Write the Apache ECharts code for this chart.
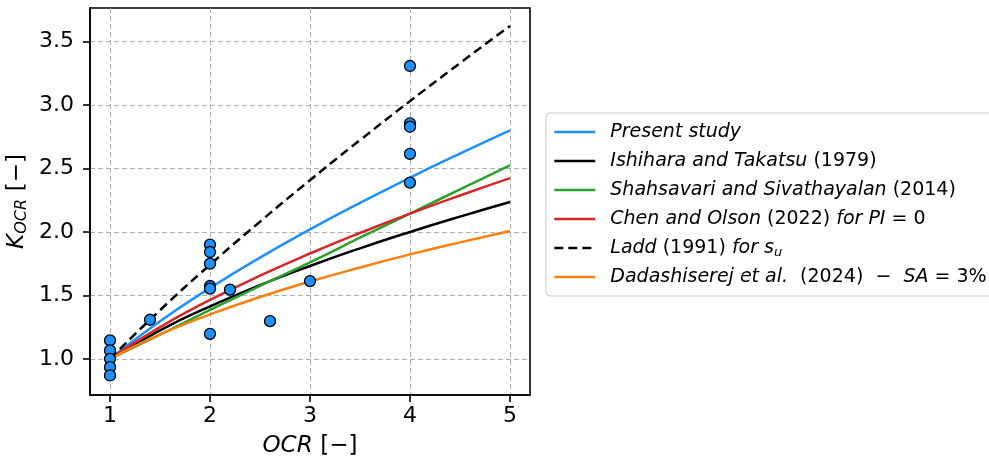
<!DOCTYPE html>
<html>
<head>
<meta charset="utf-8">
<script src="https://cdn.jsdelivr.net/npm/echarts@6/dist/echarts.min.js"></script>
<style>
  html, body { margin: 0; padding: 0; background: #fff; }
  #main { width: 989px; height: 466px; }
</style>
</head>
<body>
<div id="main"></div>
<script>
// curves at these OCR values
const curveOCR = [1, 1.5, 2, 2.5, 3, 3.5, 4, 4.5, 5]
const presentStudy = [1, 1.296, 1.558, 1.798, 2.02, 2.229, 2.428, 2.618, 2.801]
const ishihara = [1, 1.225, 1.414, 1.581, 1.732, 1.871, 2.0, 2.121, 2.236]
const shahsavari = [1, 1.19, 1.385, 1.575, 1.76, 1.955, 2.145, 2.335, 2.525]
const chenOlson = [1, 1.25, 1.464, 1.655, 1.83, 1.992, 2.144, 2.287, 2.424]
const ladd = [1, 1.383, 1.741, 2.081, 2.408, 2.724, 3.031, 3.331, 3.624]
const dadashiserej = [1, 1.192, 1.35, 1.487, 1.609, 1.72, 1.823, 1.918, 2.008]

// test points
const testOCR = [1, 1, 1, 1, 1, 1.4, 2, 2, 2, 2, 2, 2, 2.2, 2.6, 3, 4, 4, 4, 4, 4]
const testK = [1.145, 1.066, 1.0, 0.934, 0.869, 1.308, 1.9, 1.842, 1.75, 1.574, 1.553, 1.197, 1.545, 1.297, 1.613, 3.308, 2.855, 2.829, 2.616, 2.389]

const xTicks = [1, 2, 3, 4, 5]
const yTicks = [1.0, 1.5, 2.0, 2.5, 3.0, 3.5]

const FONT = 'DejaVu Sans'

const legendText = {
  'Present study': '{i|Present study}',
  'Ishihara and Takatsu (1979)': '{i|Ishihara and Takatsu} {n|(1979)}',
  'Shahsavari and Sivathayalan (2014)': '{i|Shahsavari and Sivathayalan} {n|(2014)}',
  'Chen and Olson (2022) for PI = 0': '{i|Chen and Olson} {n|(2022)} {i|for PI} {n|= 0}',
  'Ladd (1991) for su': '{i|Ladd} {n|(1991)} {i|for s}{s|u}',
  'Dadashiserej et al. (2024) − SA = 3%': '{i|Dadashiserej et al.}  {n|(2024)  −  }{i|SA} {n|= 3%}'
}

const lines = [
  { name: 'Present study', data: presentStudy, color: '#1E90FF' },
  { name: 'Ishihara and Takatsu (1979)', data: ishihara, color: '#000000' },
  { name: 'Shahsavari and Sivathayalan (2014)', data: shahsavari, color: '#2ca02c' },
  { name: 'Chen and Olson (2022) for PI = 0', data: chenOlson, color: '#d62728' },
  { name: 'Ladd (1991) for su', data: ladd, color: '#000000', dashed: true },
  { name: 'Dadashiserej et al. (2024) − SA = 3%', data: dadashiserej, color: '#ff7f0e' }
]

const myChart = echarts.init(document.getElementById('main'))

const gridLine = { show: true, lineStyle: { color: '#b0b0b0', width: 1, type: [5, 3] } }

const option = {
  animation: false,
  textStyle: { fontFamily: FONT },
  grid: {
    left: 90, right: 459, top: 8, bottom: 71,
    show: true, borderColor: '#000', borderWidth: 1.6,
    outerBoundsMode: 'none'
  },
  legend: {
    orient: 'vertical',
    left: 546,
    top: 113,
    itemWidth: 41,
    itemHeight: 14,
    itemGap: 7,
    padding: [8, 8, 8, 7],
    backgroundColor: '#fff',
    borderColor: '#cccccc',
    borderWidth: 1,
    borderRadius: 4,
    itemStyle: { opacity: 0, borderWidth: 0 },
    lineStyle: { width: 2.6 },
    data: lines.map(l => l.name),
    formatter: name => legendText[name],
    textStyle: {
      fontFamily: FONT,
      fontSize: 19,
      color: '#000',
      lineHeight: 22,
      padding: [0, 0, 0, 10],
      rich: {
        i: { fontFamily: FONT, fontSize: 19, fontStyle: 'italic', color: '#000' },
        n: { fontFamily: FONT, fontSize: 19, color: '#000' },
        s: { fontFamily: FONT, fontSize: 13, fontStyle: 'italic', color: '#000', padding: [9, 0, 0, 0] }
      }
    }
  },
  xAxis: {
    type: 'value',
    min: 0.8,
    max: 5.2,
    name: '{i|OCR}  {n|[−]}',
    nameLocation: 'middle',
    nameGap: 40,
    nameTextStyle: {
      rich: {
        i: { fontFamily: FONT, fontSize: 23, fontStyle: 'italic', color: '#000' },
        n: { fontFamily: FONT, fontSize: 23, color: '#000' }
      }
    },
    axisLine: { onZero: false, lineStyle: { color: '#000', width: 1.6 } },
    axisTick: { customValues: xTicks, length: 7, lineStyle: { color: '#000', width: 1.6 } },
    axisLabel: { customValues: xTicks, fontSize: 22, color: '#000', margin: 10, fontFamily: FONT },
    splitLine: gridLine
  },
  yAxis: {
    type: 'value',
    min: 0.715,
    max: 3.765,
    name: '{k|K}{s|OCR}  {n|[−]}',
    nameLocation: 'middle',
    nameRotate: 90,
    nameGap: 60,
    nameTextStyle: {
      rich: {
        k: { fontFamily: FONT, fontSize: 23, fontStyle: 'italic', color: '#000' },
        s: { fontFamily: FONT, fontSize: 16, fontStyle: 'italic', color: '#000', padding: [10, 0, 0, 0] },
        n: { fontFamily: FONT, fontSize: 23, color: '#000' }
      }
    },
    axisLine: { onZero: false, lineStyle: { color: '#000', width: 1.6 } },
    axisTick: { customValues: yTicks, length: 7, lineStyle: { color: '#000', width: 1.6 } },
    axisLabel: {
      customValues: yTicks, fontSize: 22, color: '#000', margin: 16, fontFamily: FONT,
      formatter: v => v.toFixed(1)
    },
    splitLine: gridLine
  },
  series: lines.map(l => ({
    name: l.name,
    type: 'line',
    smooth: true,
    symbol: 'none',
    z: 3,
    color: l.color,
    lineStyle: { color: l.color, width: 2.5, type: l.dashed ? [9, 5] : 'solid' },
    data: curveOCR.map((x, i) => [x, l.data[i]])
  })).concat([{
    name: 'Tests',
    type: 'scatter',
    symbolSize: 11,
    z: 5,
    itemStyle: { color: '#1E90FF', borderColor: '#000', borderWidth: 1.3, opacity: 1 },
    data: testOCR.map((x, i) => [x, testK[i]])
  }])
}

myChart.setOption(option)
</script>
</body>
</html>
